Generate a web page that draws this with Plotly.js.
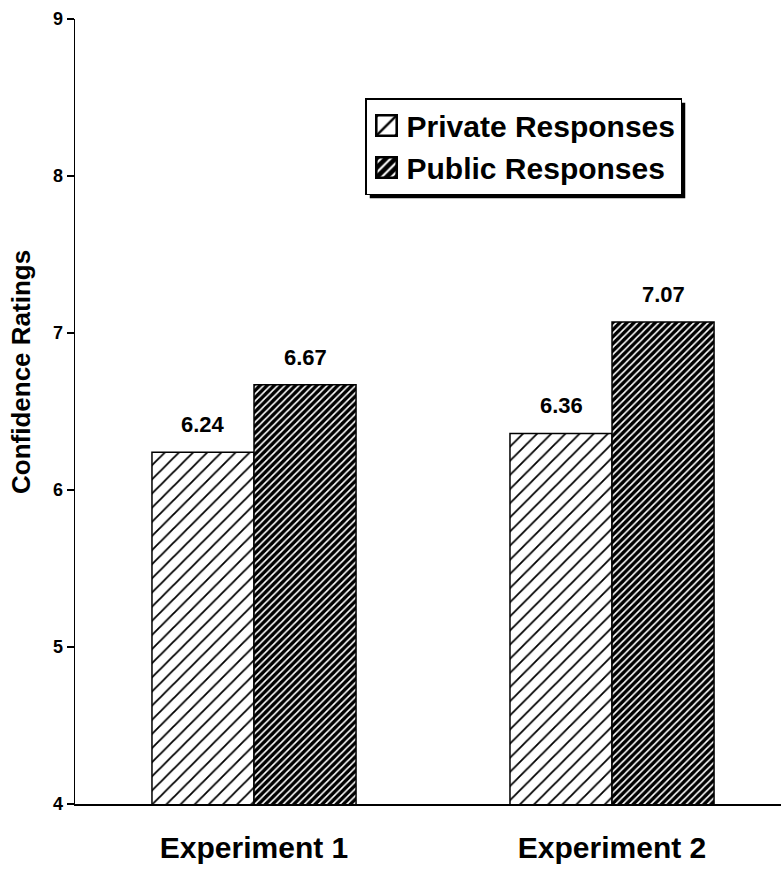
<!DOCTYPE html>
<html><head><meta charset="utf-8">
<script src="https://cdn.plot.ly/plotly-3.0.1.min.js"></script>
<style>
body{margin:0;padding:0;background:#fff}#chart{width:781px;height:869px}
.legend g.legendpoints path{transform: translate(20px,0px) scale(1.7) !important;}
</style>
</head><body><div id="chart"></div>
<script>
const categories = ["Experiment 1", "Experiment 2"];
const privateVals = [6.24, 6.36];
const publicVals = [6.67, 7.07];
const yTicks = [4, 5, 6, 7, 8, 9];
const yTitle = "Confidence Ratings";

const FONT = "Liberation Sans, Arial, sans-serif";
const BAR_W = 0.285;
const xs = categories.map((c, i) => i);

const traces = [
  {type:'bar', name:'Private Responses', x:xs, y:privateVals, width:BAR_W,
   marker:{color:'#fff', line:{color:'#000', width:1.5},
     pattern:{shape:'/', size:10, solidity:0.18, fgcolor:'#000', bgcolor:'#fff'}}},
  {type:'bar', name:'Public Responses', x:xs, y:publicVals, width:BAR_W,
   marker:{color:'#000', line:{color:'#000', width:1.5},
     pattern:{shape:'/', size:5, solidity:0.68, fgcolor:'#000', bgcolor:'#fff'}}}
];

const anns = [];
[privateVals, publicVals].forEach((arr, s) => {
  arr.forEach((v, i) => {
    anns.push({x: i + (s === 0 ? -BAR_W/2 : BAR_W/2), y: v, xref:'x', yref:'y',
      text: v.toFixed(2), showarrow:false, yanchor:'bottom', yshift:13,
      font:{family:FONT, size:22, color:'#000', weight:'bold'}});
  });
});
anns.push({xref:'paper', yref:'paper', x:(21-75)/706, y:(804-372)/785, text:yTitle,
  textangle:-90, showarrow:false, xanchor:'center', yanchor:'middle',
  font:{family:FONT, size:26, color:'#000', weight:'bold'}});

const layout = {
  width:781, height:869, margin:{l:75, r:0, t:19, b:65},
  paper_bgcolor:'#fff', plot_bgcolor:'#fff',
  font:{family:FONT, color:'#000'},
  barmode:'group', bargap:1 - 2*BAR_W, bargroupgap:0,
  showlegend:true,
  legend:{x:(365-75)/706, y:(804-98)/785, xanchor:'left', yanchor:'top', bgcolor:'#fff',
    bordercolor:'#000', borderwidth:1.5, font:{family:FONT, size:30, color:'#000', weight:'bold'},
    tracegroupgap:0},
  xaxis:{range:[-0.5,1.472], tickvals:xs, ticktext:categories, showline:true, linecolor:'#000', linewidth:1.5,
    ticks:'', showgrid:false, zeroline:false, tickfont:{family:FONT, size:30, weight:'bold'}, ticklabelstandoff:16},
  yaxis:{range:[4,9], tickvals:yTicks, showline:true, linecolor:'#000', linewidth:1.5,
    ticks:'outside', ticklen:7, tickcolor:'#000', tickwidth:1.5, showgrid:false, zeroline:false,
    tickfont:{family:FONT, size:18, weight:'bold'}},
  annotations: anns,
  shapes:[]
};
Plotly.newPlot('chart', traces, layout, {displayModeBar:false, staticPlot:true}).then(gd => {
  const bg = gd.querySelector('.legend .bg');
  if (!bg) return;
  const r = bg.getBoundingClientRect();
  const c = gd.getBoundingClientRect();
  const fs = gd._fullLayout._size;
  const px = v => (v - c.left - fs.l) / fs.w;
  const py = v => 1 - (v - c.top - fs.t) / fs.h;
  const off = 4;
  Plotly.relayout(gd, {shapes:[{type:'rect', xref:'paper', yref:'paper',
    x0:px(r.left + off), x1:px(r.right + off), y0:py(r.bottom + off), y1:py(r.top + off),
    fillcolor:'#000', line:{width:0}, layer:'above'}]});
});
</script></body></html>
